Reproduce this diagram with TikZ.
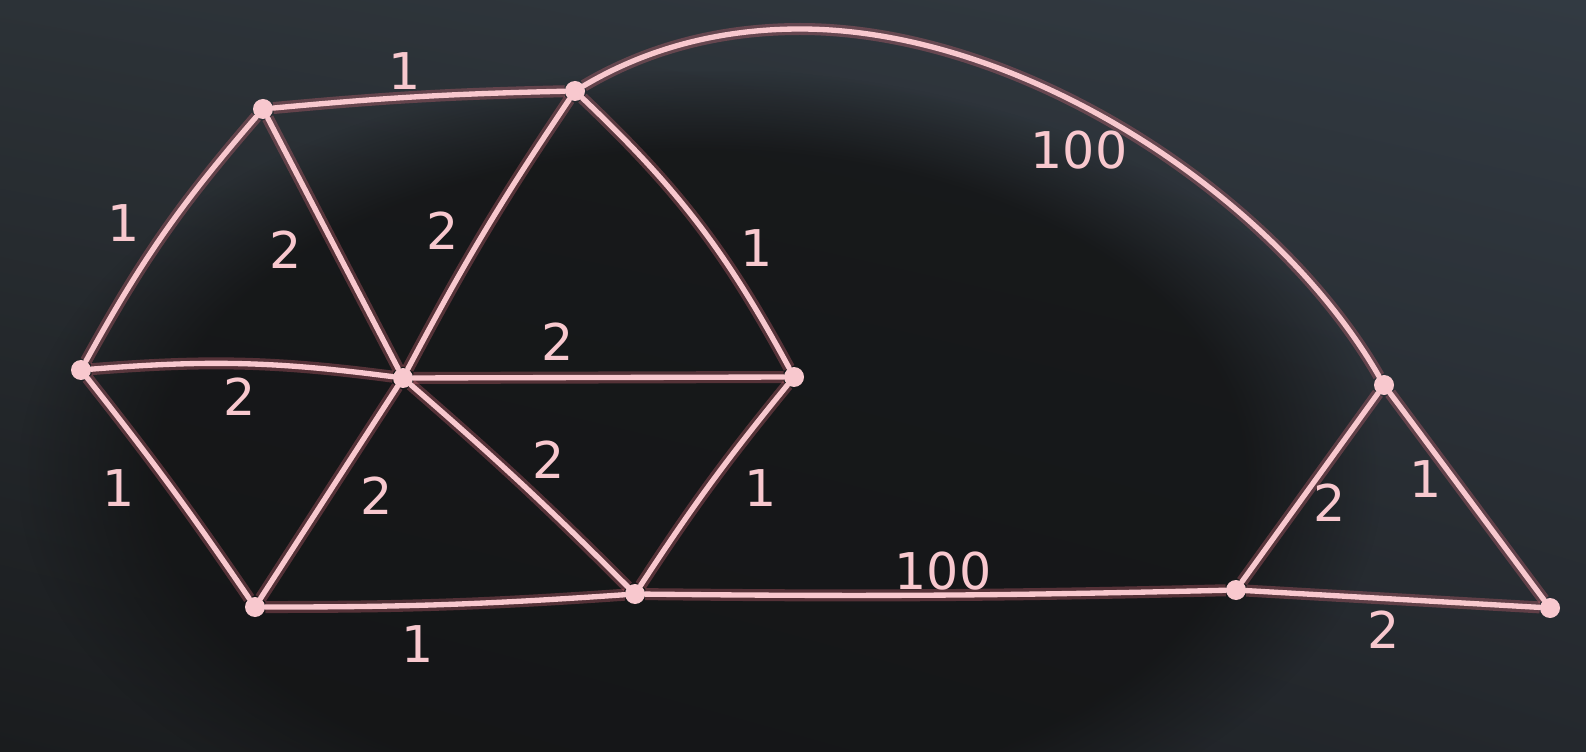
\documentclass[tikz,border=0pt]{standalone}
\usepackage{fontspec}
\setmainfont{DejaVu Sans}
\usetikzlibrary{fadings,shadings}
\definecolor{chalk}{HTML}{F8C8CE}
\definecolor{glowc}{HTML}{E8707F}
\definecolor{bgdark}{HTML}{141516}
\definecolor{bgul}{HTML}{2C3237}
\definecolor{bgur}{HTML}{323A42}
\definecolor{bgll}{HTML}{1A1C1E}
\definecolor{bglr}{HTML}{24282D}
\tikzset{
  edge/.style={draw=chalk, line width=4pt, line cap=round,
    preaction={draw=glowc, line width=9pt, draw opacity=0.3}},
  vert/.style={circle, fill=chalk, inner sep=0pt, minimum size=15pt},
  lbl/.style={text=chalk, font=\fontsize{38}{38}\selectfont, inner sep=0pt}
}
\begin{document}
\begin{tikzpicture}[x=0.75pt,y=-0.75pt]
\useasboundingbox (0,0) rectangle (1586,752);
\shade[upper left=bgul, upper right=bgur, lower left=bgll, lower right=bglr]
  (0,0) rectangle (1586,752);
\fill[bgdark, opacity=0.85, path fading=circle with fuzzy edge 20 percent] (20,70) rectangle (1380,880);
% vertices
\node[vert] (A) at (263,109) {};
\node[vert] (B) at (575,91) {};
\node[vert] (C) at (81,370) {};
\node[vert] (D) at (403,378) {};
\node[vert] (E) at (794,377) {};
\node[vert] (F) at (255,607) {};
\node[vert] (G) at (635,594) {};
\node[vert] (H) at (1384,385) {};
\node[vert] (I) at (1236,590) {};
\node[vert] (J) at (1550,608) {};
\coordinate (P) at (800,29);
% outer hexagon
\draw[edge] (A) to[bend left=2] (B);
\draw[edge] (A) to[bend right=6] (C);
\draw[edge] (C) to[bend left=2] (F);
\draw[edge] (F) to[bend right=2] (G);
\draw[edge] (G) to[bend left=3] (E);
\draw[edge] (B) to[bend left=9] (E);
% spokes
\draw[edge] (D) to (A);
\draw[edge] (D) to[bend left=3] (B);
\draw[edge] (D) to[bend right=6] (C);
\draw[edge] (D) to (E);
\draw[edge] (D) to (F);
\draw[edge] (D) to[bend left=2] (G);
% long edges
\draw[edge] (G) to[bend right=1] (I);
\draw[edge] (B) .. controls (661,40) and (740,29) .. (P)
                .. controls (1020,29) and (1274,194) .. (H);
% triangle
\draw[edge] (I) -- (H);
\draw[edge] (H) -- (J);
\draw[edge] (I) -- (J);
% labels
\node[lbl] (l1) at (405,71) {1};
\node[lbl] (l2) at (124,223) {1};
\node[lbl] (l3) at (286,250) {2};
\node[lbl] (l4) at (443,231) {2};
\node[lbl] (l5) at (757,248) {1};
\node[lbl] (l6) at (1079,150) {100};
\node[lbl] (l7) at (558,342) {2};
\node[lbl] (l8) at (240,397) {2};
\node[lbl] (l9) at (119,488) {1};
\node[lbl] (l10) at (377,496) {2};
\node[lbl] (l11) at (549,460) {2};
\node[lbl] (l12) at (761,488) {1};
\node[lbl] (l13) at (418,644) {1};
\node[lbl] (l14) at (943,571) {100};
\node[lbl] (l15) at (1330,503) {2};
\node[lbl] (l16) at (1426,479) {1};
\node[lbl] (l17) at (1384,630) {2};
\end{tikzpicture}
\end{document}
